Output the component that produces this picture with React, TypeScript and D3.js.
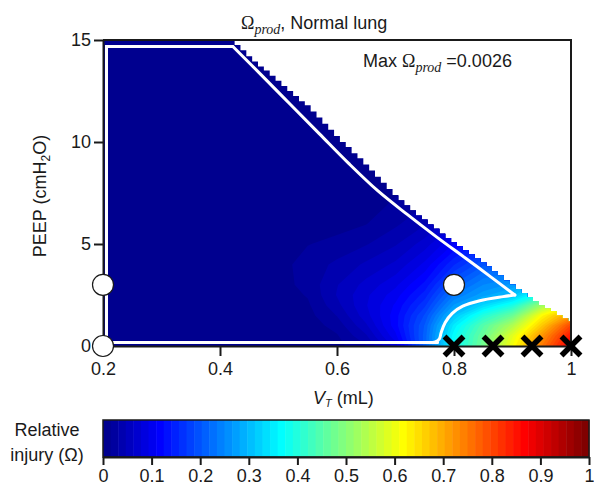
import React, { useEffect, useRef } from 'react';
import * as d3 from 'd3';

// grid of the relative injury field (Omega / max Omega_prod)
const vtGrid = [0.2, 0.4, 0.5, 0.55, 0.6, 0.65, 0.7, 0.75, 0.8, 0.85, 0.9, 0.95, 1.0];
const peepGrid = [0, 0.5, 1, 1.5, 2, 2.5, 3, 4, 5, 6, 8, 10, 15];
// one row per PEEP value, one column per VT value
const injury = [
  [0, 0, 0.001, 0.004, 0.01, 0.03, 0.085, 0.21, 0.37, 0.48, 0.61, 0.75, 0.88],
  [0, 0, 0.002, 0.005, 0.014, 0.045, 0.105, 0.21, 0.37, 0.47, 0.59, 0.72, 0.85],
  [0, 0.001, 0.003, 0.007, 0.022, 0.06, 0.118, 0.205, 0.35, 0.45, 0.54, 0.67, 0.8],
  [0, 0.001, 0.004, 0.01, 0.032, 0.072, 0.118, 0.19, 0.31, 0.4, 0.47, 0.62, 0.72],
  [0, 0.001, 0.006, 0.013, 0.042, 0.077, 0.112, 0.168, 0.268, 0.33, 0.39, 0.52, 0.62],
  [0, 0.001, 0.007, 0.017, 0.048, 0.075, 0.102, 0.148, 0.235, 0.275, 0.305, 0.4, 0.5],
  [0, 0.002, 0.009, 0.021, 0.046, 0.068, 0.09, 0.13, 0.205, 0.25, 0.27, 0.33, 0.4],
  [0, 0.002, 0.01, 0.022, 0.035, 0.05, 0.066, 0.098, 0.155, 0.2, 0.21, 0.25, 0.3],
  [0, 0.002, 0.008, 0.015, 0.02, 0.03, 0.045, 0.07, 0.11, 0.15, 0.16, 0.18, 0.2],
  [0, 0.001, 0.005, 0.008, 0.01, 0.015, 0.028, 0.045, 0.075, 0.1, 0.11, 0.12, 0.13],
  [0, 0.001, 0.002, 0.002, 0.003, 0.005, 0.009, 0.015, 0.025, 0.035, 0.04, 0.045, 0.05],
  [0, 0, 0.001, 0.001, 0.001, 0.001, 0.002, 0.004, 0.007, 0.01, 0.012, 0.014, 0.015],
  [0, 0, 0, 0, 0, 0, 0, 0, 0, 0.001, 0.001, 0.001, 0.002],
];

// upper PEEP limit of the feasible settings, VT 0.42 .. 1.00 by 0.01
const limitVT = d3.range(42, 101).map((d) => d / 100);
const limitPEEP = [
  15.0, 14.75, 14.5, 14.2, 13.95, 13.7, 13.5, 13.25, 13.0, 12.75,
  12.5, 12.25, 12.0, 11.8, 11.5, 11.2, 10.9, 10.6, 10.3, 10.0,
  9.75, 9.45, 9.2, 8.9, 8.6, 8.3, 8.0, 7.7, 7.4, 7.15,
  6.9, 6.65, 6.4, 6.2, 5.95, 5.75, 5.5, 5.3, 5.1, 4.9,
  4.7, 4.5, 4.3, 4.1, 3.9, 3.65, 3.45, 3.2, 3.0, 2.8,
  2.6, 2.4, 2.2, 2.0, 1.85, 1.7, 1.5, 1.35, 1.2,
];

// white outline of the safe region, in three pieces
const safeEdgeVT = [0.772, 0.206, 0.206, 0.422];
const safeEdgePEEP = [0.17, 0.17, 14.68, 14.68];
const safeTopVT = [0.422, 0.47, 0.52, 0.57, 0.62, 0.67, 0.72, 0.77, 0.82, 0.86, 0.904];
const safeTopPEEP = [14.68, 13.3, 11.85, 10.4, 8.95, 7.6, 6.45, 5.35, 4.3, 3.45, 2.5];
const safeLowVT = [0.904, 0.884, 0.844, 0.815, 0.797, 0.785, 0.778, 0.775, 0.768, 0.755];
const safeLowPEEP = [2.5, 2.42, 2.22, 1.95, 1.6, 1.15, 0.65, 0.35, 0.2, 0.17];

const circleVT = [0.2, 0.2, 0.8];
const circlePEEP = [0, 3, 3];
const crossVT = [0.8, 0.8667, 0.9333, 1.0];
const crossPEEP = [0, 0, 0, 0];

const xTicks = [0.2, 0.4, 0.6, 0.8, 1];
const yTicks = [0, 5, 10, 15];
const barTicks = [0, 0.1, 0.2, 0.3, 0.4, 0.5, 0.6, 0.7, 0.8, 0.9, 1];

const sans = 'Liberation Sans, Arial, Helvetica, sans-serif';
const serif = 'Liberation Serif, Times New Roman, serif';
const ink = '#1a1a1a';

// matlab jet(64)
const jet = d3.range(64).map((k) => {
  const t = (k + 1) / 64;
  const c = (o: number) => Math.round(255 * Math.max(0, Math.min(1, 1.5 - Math.abs(4 * t - o))));
  return `rgb(${c(3)},${c(2)},${c(1)})`;
});

const width = 594;
const height = 486;
const x = d3.scaleLinear().domain([0.2, 1]).range([103, 571]);
const y = d3.scaleLinear().domain([0, 15]).range([346, 40]);
const barX = d3.scaleLinear().domain([0, 1]).range([103, 589]);
const barTop = 420;
const barBottom = 457;

const App = () => {
  const xAxisRef = useRef<SVGGElement>(null);
  const yAxisRef = useRef<SVGGElement>(null);
  const barAxisRef = useRef<SVGGElement>(null);

  useEffect(() => {
    const style = (g: any) => {
      g.attr('font-family', sans).attr('font-size', 18);
      g.selectAll('text').attr('fill', ink);
      g.selectAll('line, path').attr('stroke', ink).attr('stroke-width', 2);
    };
    d3.select(xAxisRef.current!)
      .call(d3.axisBottom(x).tickValues(xTicks).tickFormat(d3.format('~g')).tickSize(10).tickPadding(6).tickSizeOuter(0))
      .call(style);
    d3.select(yAxisRef.current!)
      .call(d3.axisLeft(y).tickValues(yTicks).tickFormat(d3.format('~g')).tickSize(9).tickPadding(3).tickSizeOuter(0))
      .call(style);
    d3.select(barAxisRef.current!)
      .call(d3.axisBottom(barX).tickValues(barTicks).tickFormat(d3.format('~g')).tickSize(8).tickPadding(4).tickSizeOuter(0))
      .call(style);
  }, []);

  const rowIdx = d3.scaleLinear().domain(d3.range(peepGrid.length)).range(peepGrid).clamp(true);
  const colIdx = d3.scaleLinear().domain(d3.range(vtGrid.length)).range(vtGrid).clamp(true);
  const contours = d3
    .contours()
    .size([vtGrid.length, peepGrid.length])
    .thresholds(d3.range(1, 64).map((k) => k / 64))(injury.flat());
  const toPlot = d3.geoTransform({
    point(gx: number, gy: number) {
      (this as any).stream.point(x(colIdx(gx - 0.5)), y(rowIdx(gy - 0.5)));
    },
  });
  const contourPath = d3.geoPath(toPlot);

  const limitPoints: [number, number][] = [[0.2, 15], ...limitVT.map((v, i) => [v, limitPEEP[i]] as [number, number])];
  const feasible = d3
    .area<[number, number]>()
    .x((d) => x(d[0]))
    .y0(y(0))
    .y1((d) => y(d[1]))
    .curve(d3.curveStep)(limitPoints);

  const pieces = [
    { vt: safeEdgeVT, peep: safeEdgePEEP, curve: d3.curveLinear },
    { vt: safeTopVT, peep: safeTopPEEP, curve: d3.curveCatmullRom },
    { vt: safeLowVT, peep: safeLowPEEP, curve: d3.curveCatmullRom },
  ];
  const safePaths = pieces.map((p) =>
    d3
      .line<number>()
      .x((d, i) => x(p.vt[i]))
      .y((d) => y(d))
      .curve(p.curve)(p.peep)
  );

  return (
    <svg width={width} height={height} style={{ position: 'absolute', left: 0, top: 0 }} fontFamily={sans}>
      <defs>
        <clipPath id="feasible">
          <path d={feasible || ''} />
        </clipPath>
      </defs>
      <g clipPath="url(#feasible)">
        <rect x={x(0.2)} y={y(15)} width={x(1) - x(0.2)} height={y(0) - y(15)} fill={jet[0]} />
        {contours.map((c, i) => (
          <path key={i} d={contourPath(c as any) || ''} fill={jet[i + 1]} />
        ))}
      </g>
      {safePaths.map((d, i) => (
        <path key={i} d={d || ''} fill="none" stroke="#fff" strokeWidth={3} strokeLinejoin="miter" strokeLinecap="round" />
      ))}

      <path
        d={`M${x(0.2)},${y(15)}H${x(1)}V${y(0)}`}
        fill="none"
        stroke={ink}
        strokeWidth={2}
      />
      <g ref={xAxisRef} transform={`translate(0,${y(0)})`} />
      <g ref={yAxisRef} transform={`translate(${x(0.2)},0)`} />

      {circleVT.map((v, i) => (
        <circle key={i} cx={x(v)} cy={y(circlePEEP[i])} r={10.5} fill="#fff" stroke={ink} strokeWidth={1.2} />
      ))}
      {crossVT.map((v, i) => {
        const cx = x(v);
        const cy = y(crossPEEP[i]);
        const s = 9.5;
        return (
          <g key={i} stroke="#000" strokeWidth={5.5}>
            <line x1={cx - s} y1={cy - s} x2={cx + s} y2={cy + s} />
            <line x1={cx - s} y1={cy + s} x2={cx + s} y2={cy - s} />
          </g>
        );
      })}

      <text x={241} y={29} fontSize={18} fill={ink}>
        <tspan fontFamily={serif}>Ω</tspan>
        <tspan fontFamily={serif} fontStyle="italic" fontSize={14} dy={5}>prod</tspan>
        <tspan dy={-5}>, Normal lung</tspan>
      </text>
      <text x={363} y={67} fontSize={18} fill={ink}>
        Max <tspan fontFamily={serif}>Ω</tspan>
        <tspan fontFamily={serif} fontStyle="italic" fontSize={14} dy={5}>prod</tspan>
        <tspan dy={-5}> =0.0026</tspan>
      </text>

      <text x={313} y={404} fontSize={18} fill={ink}>
        <tspan fontStyle="italic">V</tspan>
        <tspan fontStyle="italic" fontSize={11} dy={3}>T</tspan>
        <tspan dy={-3}> (mL)</tspan>
      </text>
      <text transform="translate(46,196) rotate(-90)" textAnchor="middle" fontSize={18} fill={ink}>
        PEEP (cmH<tspan fontSize={12} dy={4}>2</tspan>
        <tspan dy={-4}>O)</tspan>
      </text>

      {jet.map((c, k) => (
        <rect key={k} x={barX(k / 64)} y={barTop} width={barX((k + 1) / 64) - barX(k / 64) + 0.5} height={barBottom - barTop} fill={c} />
      ))}
      <rect x={barX(0)} y={barTop} width={barX(1) - barX(0)} height={barBottom - barTop} fill="none" stroke={ink} strokeWidth={1.5} />
      <g ref={barAxisRef} transform={`translate(0,${barBottom})`} />
      <text x={47} y={436} textAnchor="middle" fontSize={18} fill={ink}>Relative</text>
      <text x={47} y={461} textAnchor="middle" fontSize={18} fill={ink}>injury (Ω)</text>
    </svg>
  );
};

export default App;
